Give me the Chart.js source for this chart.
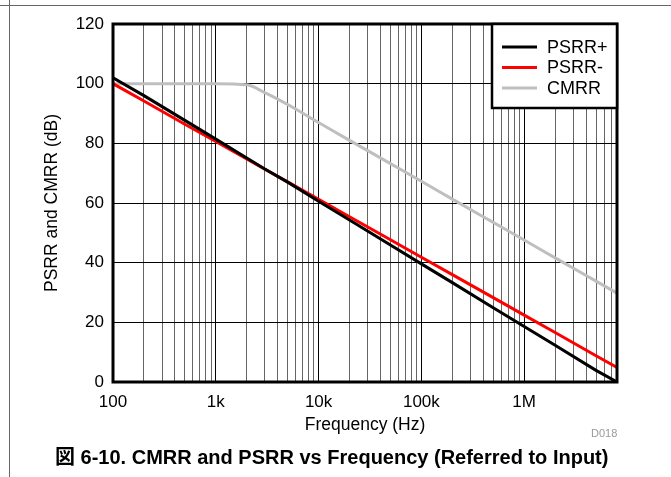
<!DOCTYPE html>
<html>
<head>
<meta charset="utf-8">
<script src="https://cdn.jsdelivr.net/npm/chart.js@4"></script>
<style>
  body { margin: 0; background: #fff; font-family: "Liberation Sans", Arial, "Noto Sans CJK JP", sans-serif; }
  #wrap { position: relative; width: 671px; height: 477px; overflow: hidden; }
  #hline { position: absolute; left: 0; top: 5px; width: 671px; height: 0; border-top: 1.5px solid #666; }
  #vline { position: absolute; left: 9px; top: 0; width: 0; height: 477px; border-left: 1.5px solid #666; }
  #caption { position: absolute; left: 55px; top: 445px; font-weight: bold; font-size: 20px; line-height: 24px; color: #000; white-space: nowrap; }
  #code { position: absolute; left: 591px; top: 427px; font-size: 11px; color: #999; }
  canvas { position: absolute; left: 0; top: 0; }
</style>
</head>
<body>
<div id="wrap">
  <div id="hline"></div>
  <div id="vline"></div>
  <canvas id="chart" width="671" height="477"></canvas>
  <div id="code">D018</div>
  <div id="caption">図 6-10. CMRR and PSRR vs Frequency (Referred to Input)</div>
</div>
<script>
// ---------------- DATA ----------------
const freqHz = [100, 200, 500, 1000, 2000, 3000, 5000, 10000, 20000, 50000,
                100000, 200000, 500000, 1000000, 2000000, 5000000, 8000000];
const psrrPlus  = [102, 96.0, 87.7, 81.4, 75.1, 71.4, 67.0, 60.6, 54.3, 45.9,
                   39.6, 33.3, 24.9, 18.6, 12.3, 3.9, 0];
const psrrMinus = [100, 94.2, 86.4, 80.6, 74.8, 71.3, 67.1, 61.2, 55.4, 47.7,
                   41.8, 36.0, 28.3, 22.4, 16.6, 8.8, 4.9];
const cmrr      = [100, 100, 100, 100, 99.6, 97.0, 93.0, 87.0, 81.0, 73.2,
                   67.3, 61.3, 53.5, 47.6, 41.6, 33.8, 29.8];

const decades = [100, 1000, 10000, 100000, 1000000];
const decadeLabels = ["100", "1k", "10k", "100k", "1M"];
const xMin = 100;
const xMax = 8000000;
const yTicks = [0, 20, 40, 60, 80, 100, 120];

// minor grid: 1..9 inside each decade
const xTickVals = [];
decades.forEach(d => {
  for (let m = 1; m <= 9; m++) {
    const v = d * m;
    if (v <= xMax) xTickVals.push(v);
  }
});

function toPoints(values) {
  return freqHz.map((f, i) => ({ x: f, y: values[i] }));
}

const FONT = "'Liberation Sans', Arial, sans-serif";

// ---------------- PLUGINS ----------------
const framePlugin = {
  id: "frame",
  afterDatasetsDraw(chart) {
    const { ctx, chartArea: a } = chart;
    ctx.save();
    ctx.strokeStyle = "#000";
    ctx.lineWidth = 3;
    ctx.strokeRect(a.left, a.top, a.right - a.left, a.bottom - a.top);

    // legend box, top right inside plot
    const w = 125, h = 84;
    const bx = a.right - w, by = a.top;
    ctx.fillStyle = "#fff";
    ctx.fillRect(bx, by, w, h);
    ctx.lineWidth = 2.5;
    ctx.strokeRect(bx, by, w, h);
    ctx.font = "18px " + FONT;
    ctx.textBaseline = "middle";
    chart.data.datasets.forEach((ds, i) => {
      const y = by + 23 + i * 20.5;
      ctx.strokeStyle = ds.borderColor;
      ctx.lineWidth = 3;
      ctx.beginPath();
      ctx.moveTo(bx + 10, y);
      ctx.lineTo(bx + 45, y);
      ctx.stroke();
      ctx.fillStyle = "#000";
      ctx.fillText(ds.label, bx + 55, y + 1);
    });
    ctx.restore();
  }
};

// ---------------- CHART ----------------
new Chart(document.getElementById("chart"), {
  type: "line",
  data: {
    datasets: [
      { label: "PSRR+", data: toPoints(psrrPlus), borderColor: "#000000", borderWidth: 3, pointRadius: 0, tension: 0 },
      { label: "PSRR-", data: toPoints(psrrMinus), borderColor: "#ff0000", borderWidth: 3, pointRadius: 0, tension: 0 },
      { label: "CMRR", data: toPoints(cmrr), borderColor: "#bfbfbf", borderWidth: 3, pointRadius: 0, cubicInterpolationMode: "monotone" }
    ]
  },
  options: {
    responsive: false,
    animation: false,
    layout: { padding: { left: 0, top: 24, right: 54, bottom: 40 } },
    plugins: { legend: { display: false }, tooltip: { enabled: false } },
    scales: {
      x: {
        type: "logarithmic",
        min: xMin,
        max: xMax,
        afterBuildTicks: scale => { scale.ticks = xTickVals.map(v => ({ value: v })); },
        afterFit: scale => { scale.height = 55; },
        border: { display: false },
        grid: {
          drawTicks: false,
          lineWidth: 1,
          color: c => (c.tick && decades.includes(c.tick.value)) ? "#000" : "#666"
        },
        ticks: {
          autoSkip: false,
          maxRotation: 0,
          padding: 10,
          color: "#000",
          font: { family: FONT, size: 17 },
          callback: v => {
            const k = decades.indexOf(v);
            return k >= 0 ? decadeLabels[k] : "";
          }
        },
        title: {
          display: true,
          text: "Frequency (Hz)",
          color: "#000",
          padding: { top: 0, bottom: 1 },
          font: { family: FONT, size: 17.5 }
        }
      },
      y: {
        min: 0,
        max: 120,
        afterBuildTicks: scale => { scale.ticks = yTicks.map(v => ({ value: v })); },
        afterFit: scale => { scale.width = 113; },
        border: { display: false },
        grid: { drawTicks: false, color: "#000", lineWidth: 1 },
        ticks: {
          padding: 9,
          color: "#000",
          font: { family: FONT, size: 17 }
        },
        title: {
          display: true,
          text: "PSRR and CMRR (dB)",
          color: "#000",
          padding: { top: 42, bottom: 0 },
          font: { family: FONT, size: 17.5 }
        }
      }
    }
  },
  plugins: [framePlugin]
});
</script>
</body>
</html>
